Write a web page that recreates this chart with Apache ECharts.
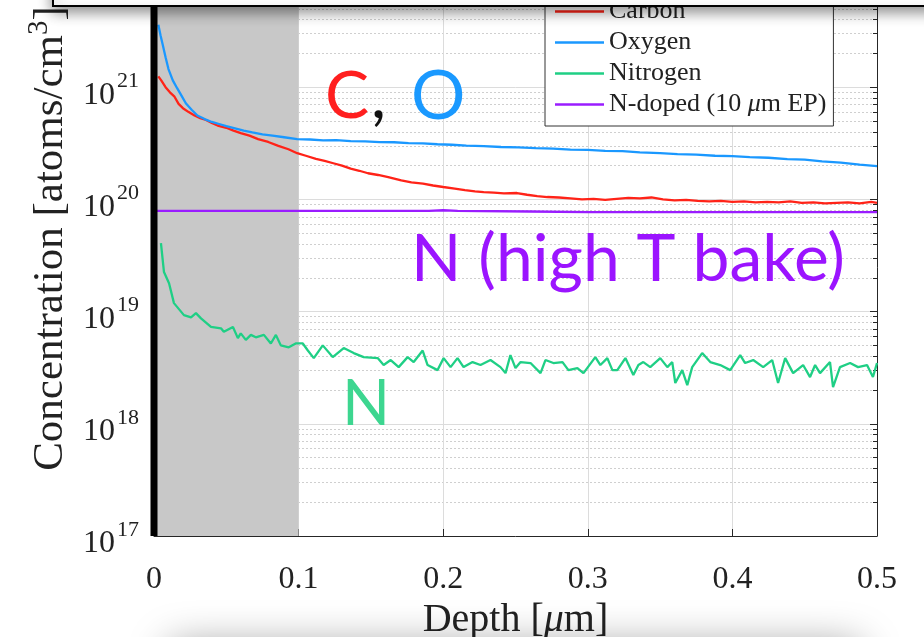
<!DOCTYPE html>
<html><head><meta charset="utf-8">
<script src="https://cdn.jsdelivr.net/npm/echarts@6/dist/echarts.min.js"></script>
<style>html,body{margin:0;padding:0;background:#fff}#c{width:924px;height:637px}</style>
</head><body><div id="c"></div>
<script>
// ---------- data ----------
const xTickValues = [0, 0.1, 0.2, 0.3, 0.4, 0.5];
const yDecades = [17, 18, 19, 20, 21, 22];
const seriesNames = ['Carbon', 'Oxygen', 'Nitrogen', 'N-doped (10 μm EP)'];
const shadedRange = [0, 0.1];

const carbonDepth = [0.003,0.005,0.008,0.011,0.014,0.017,0.020,0.024,0.028,0.032,0.036,0.040,0.044,0.050,0.055,0.060,0.066,0.072,0.079,0.086,0.093,0.099,0.105,0.112,0.118,0.124,0.130,0.136,0.142,0.148,0.155,0.162,0.171,0.178,0.186,0.193,0.200,0.208,0.215,0.222,0.228,0.235,0.242,0.251,0.258,0.265,0.272,0.280,0.288,0.296,0.304,0.312,0.320,0.328,0.336,0.344,0.352,0.360,0.368,0.376,0.384,0.392,0.400,0.408,0.416,0.424,0.432,0.440,0.448,0.456,0.464,0.472,0.480,0.488,0.496,0.500];
const carbonConc = [1.25e21,1.15e21,1.0e21,9.0e20,8.3e20,7.1e20,6.5e20,6.0e20,5.6e20,5.3e20,5.1e20,4.8e20,4.55e20,4.35e20,4.1e20,3.9e20,3.7e20,3.45e20,3.25e20,3.0e20,2.8e20,2.58e20,2.45e20,2.3e20,2.2e20,2.1e20,2.0e20,1.88e20,1.8e20,1.71e20,1.65e20,1.58e20,1.48e20,1.42e20,1.38e20,1.33e20,1.29e20,1.25e20,1.21e20,1.18e20,1.16e20,1.15e20,1.13e20,1.14e20,1.10e20,1.07e20,1.05e20,1.04e20,1.02e20,1.0e20,1.01e20,0.99e20,1.01e20,1.03e20,1.02e20,1.04e20,1.0e20,0.98e20,0.99e20,0.97e20,0.96e20,0.97e20,0.95e20,0.96e20,0.94e20,0.95e20,0.94e20,0.96e20,0.93e20,0.94e20,0.92e20,0.93e20,0.94e20,0.92e20,0.95e20,0.93e20];

const oxygenDepth = [0.003,0.0045,0.006,0.008,0.010,0.013,0.016,0.019,0.022,0.026,0.030,0.035,0.040,0.045,0.050,0.056,0.062,0.068,0.075,0.082,0.090,0.099,0.108,0.117,0.126,0.136,0.146,0.156,0.166,0.176,0.186,0.196,0.206,0.216,0.228,0.240,0.252,0.264,0.276,0.288,0.300,0.312,0.324,0.336,0.350,0.362,0.375,0.388,0.400,0.412,0.425,0.438,0.450,0.462,0.475,0.488,0.500];
const oxygenConc = [3.6e21,2.9e21,2.4e21,1.85e21,1.45e21,1.15e21,9.8e20,8.4e20,7.2e20,6.3e20,5.6e20,5.2e20,4.9e20,4.7e20,4.5e20,4.3e20,4.1e20,3.95e20,3.8e20,3.7e20,3.58e20,3.45e20,3.42e20,3.36e20,3.37e20,3.3e20,3.29e20,3.24e20,3.23e20,3.17e20,3.16e20,3.1e20,3.07e20,3.01e20,2.99e20,2.93e20,2.91e20,2.86e20,2.84e20,2.78e20,2.76e20,2.71e20,2.69e20,2.63e20,2.59e20,2.53e20,2.51e20,2.45e20,2.43e20,2.38e20,2.35e20,2.29e20,2.26e20,2.18e20,2.13e20,2.04e20,1.98e20];

const nitrogenDepth = [0.0048,0.0069,0.0104,0.0138,0.0207,0.0256,0.029,0.0325,0.0394,0.0463,0.0483,0.0546,0.058,0.060,0.0635,0.067,0.0704,0.076,0.0808,0.0843,0.0877,0.0932,0.098,0.1029,0.1064,0.1105,0.1167,0.1236,0.1312,0.1381,0.145,0.1547,0.1588,0.1637,0.1692,0.1754,0.1796,0.1858,0.1892,0.1961,0.2003,0.2051,0.2099,0.2141,0.2203,0.2258,0.2327,0.2396,0.2431,0.2465,0.25,0.2535,0.2604,0.2673,0.2707,0.2762,0.2825,0.2866,0.2928,0.297,0.3052,0.3087,0.3135,0.317,0.3204,0.326,0.3315,0.335,0.3384,0.3432,0.3501,0.355,0.3584,0.3605,0.3653,0.3688,0.3722,0.3791,0.3847,0.3916,0.3985,0.4054,0.4088,0.4144,0.4213,0.4275,0.4316,0.4365,0.442,0.4489,0.4537,0.4572,0.4606,0.4675,0.4696,0.4744,0.4814,0.4869,0.4931,0.4972,0.5];
const nitrogenConc = [4.07e19,2.25e19,1.79e19,1.19e19,9.3e18,8.9e18,9.7e18,8.7e18,7.3e18,7.1e18,6.6e18,7.3e18,5.8e18,6.4e18,5.6e18,6.2e18,5.9e18,6.2e18,5.2e18,6.2e18,5.0e18,4.8e18,5.2e18,5.2e18,4.5e18,3.85e18,5.0e18,3.93e18,4.73e18,4.27e18,3.93e18,3.85e18,3.34e18,3.70e18,3.2e18,3.93e18,3.55e18,4.5e18,3.34e18,3.01e18,3.85e18,3.2e18,3.85e18,3.2e18,3.55e18,3.34e18,3.70e18,3.2e18,2.83e18,4.1e18,3.14e18,3.55e18,3.48e18,2.83e18,3.70e18,3.48e18,3.55e18,3.01e18,3.14e18,2.83e18,3.93e18,3.34e18,3.85e18,3.01e18,3.01e18,3.85e18,2.72e18,3.34e18,3.55e18,3.2e18,3.85e18,3.2e18,3.55e18,2.31e18,3.01e18,2.21e18,3.2e18,4.27e18,3.55e18,3.34e18,3.01e18,4.1e18,3.48e18,3.70e18,3.2e18,3.70e18,2.31e18,3.85e18,2.83e18,3.34e18,2.61e18,3.34e18,2.83e18,3.55e18,2.12e18,3.2e18,3.48e18,3.2e18,3.34e18,2.61e18,3.48e18];

const ndopedDepth = [0, 0.1, 0.19, 0.2, 0.21, 0.26, 0.3, 0.4, 0.5];
const ndopedConc = [7.9e19, 7.9e19, 7.9e19, 8.0e19, 7.9e19, 7.8e19, 7.7e19, 7.7e19, 7.7e19];

// ---------- chart ----------
const zip = (xs, ys) => xs.map((x, i) => [x, ys[i]]);
const serif = 'Liberation Serif';
const colors = ['#ff2318', '#1a98ff', '#1fcf85', '#9a1cff'];
const yMin = Math.pow(10, yDecades[0]);
const yMax = Math.pow(10, yDecades[yDecades.length - 1]);

const chart = echarts.init(document.getElementById('c'), null, {renderer: 'canvas'});
const lineSeries = (name, xs, ys, color) => ({
  name, type: 'line', data: zip(xs, ys), showSymbol: false, symbol: 'none',
  lineStyle: {color, width: 2.3}, itemStyle: {color}, z: 3, silent: true
});

chart.setOption({
  animation: false,
  backgroundColor: '#ffffff',
  grid: {left: 154, right: 47, top: -25, bottom: 101, containLabel: false, outerBoundsMode: 'none'},
  xAxis: {
    type: 'value', min: xTickValues[0], max: xTickValues[xTickValues.length - 1], interval: 0.1,
    axisLine: {show: true, onZero: false, lineStyle: {color: '#262626', width: 1}},
    axisTick: {show: true, inside: true, length: 7, lineStyle: {color: '#262626'}},
    axisLabel: {fontFamily: serif, fontSize: 32, color: '#222', margin: 28},
    splitLine: {show: true, lineStyle: {color: '#dcdcdc', width: 1}},
    name: 'Depth [{i|μ}m]', nameLocation: 'middle', nameGap: 54,
    nameTextStyle: {fontFamily: serif, fontSize: 40, color: '#222',
      rich: {i: {fontFamily: serif, fontSize: 40, fontStyle: 'italic', color: '#222'}}}
  },
  yAxis: [{
    type: 'log', logBase: 10, min: yMin, max: yMax, position: 'left', splitNumber: 5,
    axisLine: {show: false},
    axisTick: {show: false},
    minorTick: {show: false, splitNumber: 9},
    minorSplitLine: {show: true, lineStyle: {color: '#cfcfcf', width: 1, type: [2, 2]}},
    splitLine: {show: true, lineStyle: {color: '#dcdcdc', width: 1}},
    axisLabel: {
      margin: 15,
      formatter: v => '{b|10}{s|' + Math.round(Math.log10(v)) + '}',
      rich: {
        b: {fontFamily: serif, fontSize: 32, lineHeight: 32, color: '#222', padding: [16, 0, 0, 0]},
        s: {fontFamily: serif, fontSize: 22, lineHeight: 22, color: '#222', padding: [0, 0, 12, 2]}
      }
    },
    name: 'Concentration [atoms/cm{s|3}]', nameLocation: 'middle', nameGap: 69, nameRotate: 90,
    nameTextStyle: {fontFamily: serif, fontSize: 43, color: '#222', padding: [0, 0, 0, 34],
      rich: {s: {fontFamily: serif, fontSize: 29, color: '#222', padding: [0, 0, 22, 0]}}}
  }, {
    type: 'log', logBase: 10, min: yMin, max: yMax, position: 'right', splitNumber: 5,
    axisLine: {show: true, lineStyle: {color: '#262626', width: 1}},
    axisTick: {show: true, inside: true, length: 7, lineStyle: {color: '#262626'}},
    minorTick: {show: true, inside: true, splitNumber: 9, length: 4, lineStyle: {color: '#262626'}},
    axisLabel: {show: false}, splitLine: {show: false}, minorSplitLine: {show: false}
  }],
  legend: {
    data: seriesNames, orient: 'vertical', left: 545, top: -10,
    padding: [6, 7, 6, 10], itemGap: 0, itemWidth: 49, itemHeight: 2.5, icon: 'rect',
    backgroundColor: '#ffffff', borderColor: '#333', borderWidth: 1, borderRadius: 0,
    selectedMode: false,
    formatter: n => n.replace('μ', '{i|μ}'),
    textStyle: {fontFamily: serif, fontSize: 26, lineHeight: 31, color: '#222',
      rich: {i: {fontFamily: serif, fontSize: 26, lineHeight: 31, fontStyle: 'italic', color: '#222'}}}
  },
  series: [
    {
      name: 'shade', type: 'line', data: [], z: 1, silent: true,
      markArea: {silent: true, itemStyle: {color: '#c8c8c8', opacity: 1},
        data: [[{xAxis: shadedRange[0]}, {xAxis: shadedRange[1]}]]}
    },
    lineSeries(seriesNames[0], carbonDepth, carbonConc, colors[0]),
    lineSeries(seriesNames[1], oxygenDepth, oxygenConc, colors[1]),
    lineSeries(seriesNames[2], nitrogenDepth, nitrogenConc, colors[2]),
    lineSeries(seriesNames[3], ndopedDepth, ndopedConc, colors[3]),
    {
      name: 'surface', type: 'line', data: [[xTickValues[0], yMin], [xTickValues[0], yMax]],
      showSymbol: false, symbol: 'none', clip: false, z: 5, silent: true,
      lineStyle: {color: '#000', width: 7}
    }
  ],
  graphic: [
    {type: 'text', x: 325, y: 97, z: 50, silent: true,
      style: {text: '{c|C}{k|,}{o|O}', font: '66px Lato', verticalAlign: 'middle',
        rich: {c: {fill: '#ff1f1f', font: '66px Lato'}, k: {fill: '#111', font: '66px Lato', padding: [0, 0, 0, 2]},
               o: {fill: '#1a99ff', font: '68px Lato', padding: [0, 0, 0, 25]}}}},
    {type: 'text', x: 411, y: 260, z: 50, silent: true,
      style: {text: 'N (high T bake)', font: '66px Lato', fill: '#9b14ff', verticalAlign: 'middle'}},
    {type: 'text', x: 342, y: 405, z: 50, silent: true,
      style: {text: 'N', font: '63px Lato', fill: '#3dd690', verticalAlign: 'middle'}},
    {type: 'rect', z: 100, silent: true, shape: {x: 53, y: -30, width: 900, height: 36},
      style: {fill: '#fff', stroke: '#000', lineWidth: 2, shadowBlur: 14, shadowColor: 'rgba(0,0,0,0.45)', shadowOffsetY: 5}},
    {type: 'rect', z: 100, silent: true, shape: {x: 170, y: 655, width: 690, height: 60},
      style: {fill: '#fff', shadowBlur: 40, shadowColor: 'rgba(0,0,0,0.4)', shadowOffsetY: -10}}
  ]
});
</script></body></html>
